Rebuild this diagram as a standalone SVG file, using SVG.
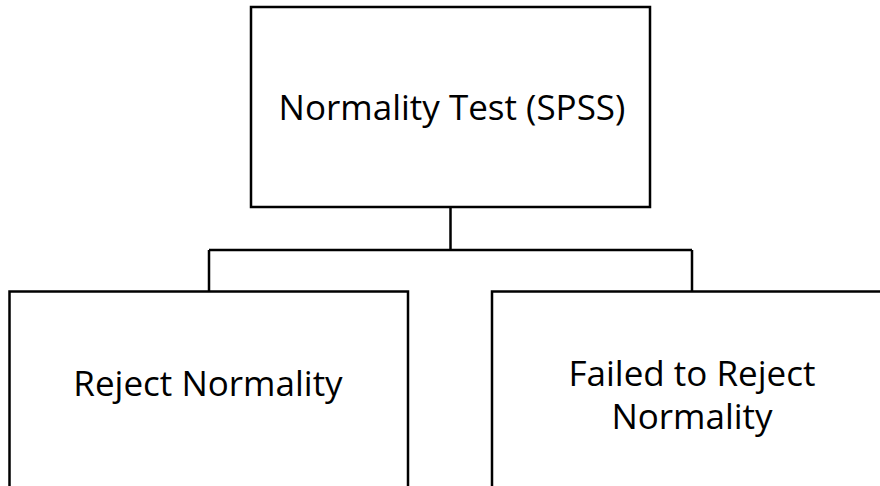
<svg xmlns="http://www.w3.org/2000/svg" width="880" height="486" viewBox="0 0 880 486">
<style>
.box{fill:#fff;stroke:#000;stroke-width:2.5}
.wire{fill:none;stroke:#000;stroke-width:2.5}
.lbl{font-family:"Open Sans","Liberation Sans",sans-serif;font-size:35px;fill:#000;text-anchor:middle}
</style>
<rect width="880" height="486" fill="#fff"/>
<g id="connectors">
<path class="wire" d="M450.5 207 V250 M209 250 H692 M209 250 V291.5 M692 250 V291.5"/>
</g>
<g id="node-top">
<rect class="box" x="251" y="7" width="399" height="200"/>
<text class="lbl" x="452" y="120">Normality Test (SPSS)</text>
</g>
<g id="node-reject">
<rect class="box" x="9.5" y="291.5" width="398.5" height="210"/>
<text class="lbl" x="208" y="396">Reject Normality</text>
</g>
<g id="node-failed">
<rect class="box" x="492" y="291.5" width="400" height="210"/>
<text class="lbl" x="692" y="386">Failed to Reject</text>
<text class="lbl" x="692" y="429">Normality</text>
</g>
</svg>
